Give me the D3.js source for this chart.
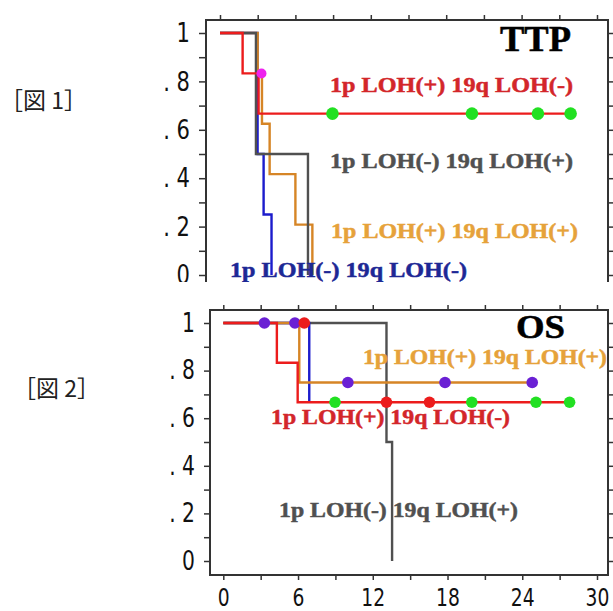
<!DOCTYPE html>
<html>
<head>
<meta charset="utf-8">
<script src="https://d3js.org/d3.v7.min.js"></script>
<style>
  body { margin: 0; background: #fff; }
  svg { display: block; }
</style>
</head>
<body>
<div id="chart"></div>
<script>
// tick labels
var timeTicks = [0, 6, 12, 18, 24, 30];
var yTickLabels = ["0", ". 2", ". 4", ". 6", ". 8", "1"];
var groupNames = ["1p LOH(+) 19q LOH(-)", "1p LOH(-) 19q LOH(+)", "1p LOH(+) 19q LOH(+)", "1p LOH(-) 19q LOH(-)"];

// TTP curves (months, survival)
var ttpRedTime = [0, 1.8, 3.07, 28];
var ttpRedSurv = [1, 0.833, 0.667, 0.667];
var ttpGrayTime = [0, 2.86, 7.0];
var ttpGraySurv = [1, 0.5, 0];
var ttpOrangeTime = [0, 3.0, 3.34, 3.95, 6.0, 7.35];
var ttpOrangeSurv = [1, 0.833, 0.625, 0.417, 0.208, 0];
var ttpBlueTime = [0, 2.99, 3.47, 4.1];
var ttpBlueSurv = [1, 0.5, 0.25, 0];
// TTP censor marks
var ttpGreenTime = [8.95, 20.05, 25.3, 27.9];
var ttpGreenSurv = [0.667, 0.667, 0.667, 0.667];
var ttpMagentaTime = [3.3];
var ttpMagentaSurv = [0.833];

// OS curves
var osRedTime = [0, 4.3, 5.97, 27.8];
var osRedSurv = [1, 0.833, 0.667, 0.667];
var osOrangeTime = [0, 6.1, 24.8];
var osOrangeSurv = [1, 0.75, 0.75];
var osBlueTime = [0, 6.9];
var osBlueSurv = [1, 0.667];
var osGrayTime = [0, 13.1, 13.55];
var osGraySurv = [1, 0.5, 0];
// OS censor marks
var osPurpleTime = [3.3, 5.75, 10.0, 17.8, 24.8];
var osPurpleSurv = [1, 1, 0.75, 0.75, 0.75];
var osRedDotTime = [6.5, 13.1, 16.55];
var osRedDotSurv = [1, 0.667, 0.667];
var osGreenTime = [8.97, 19.95, 25.1, 27.8];
var osGreenSurv = [0.667, 0.667, 0.667, 0.667];

var RED = "#ec1c1c", RED_TEXT = "#d3262a", GRAY = "#505050", ORANGE = "#d68526",
    ORANGE_TEXT = "#e6a23a", BLUE = "#1c1ccc", BLUE_TEXT = "#1d2895",
    GREEN = "#22e022", PURPLE = "#6a20d4", MAGENTA = "#ee22ee";

var TICK_FONT = "'Liberation Sans Narrow', 'Arial Narrow', 'DejaVu Sans', sans-serif";
var LABEL_FONT = "'Liberation Serif', 'Times New Roman', serif";
var NARROW = 0.78; // squeeze tick digits to look condensed

window.onload = init;

function init() {
    var svg = d3.select("#chart")
        .append("svg")
        .attr("width", 613)
        .attr("height", 611);

    drawChart1(svg);
    drawChart2(svg);
}

function zip(times, surv) {
    return times.map(function(t, i) { return { t: t, s: surv[i] }; });
}

function yFormat(d, i) {
    return i % 2 === 0 ? yTickLabels[i / 2] : "";
}

function drawCurves(g, x, y, curves) {
    var line = d3.line()
        .x(function(d) { return x(d.t); })
        .y(function(d) { return y(d.s); })
        .curve(d3.curveStepAfter);

    curves.forEach(function(c) {
        g.append("path")
            .datum(zip(c.t, c.s))
            .attr("d", line)
            .attr("fill", "none")
            .attr("stroke", c.color)
            .attr("stroke-width", 2.4);
    });
}

function drawDots(g, x, y, dots) {
    dots.forEach(function(c) {
        g.selectAll(null)
            .data(zip(c.t, c.s))
            .enter()
            .append("circle")
            .attr("cx", function(d) { return x(d.t); })
            .attr("cy", function(d) { return y(d.s); })
            .attr("r", c.r)
            .attr("fill", c.color);
    });
}

function drawLabels(g, labels) {
    labels.forEach(function(l) {
        g.append("text")
            .text(l.text)
            .attr("x", l.x)
            .attr("y", l.y)
            .attr("textLength", l.w)
            .attr("lengthAdjust", "spacingAndGlyphs")
            .attr("font-family", LABEL_FONT)
            .attr("font-weight", "bold")
            .attr("font-size", l.size)
            .attr("fill", l.color)
            .attr("stroke", l.color)
            .attr("stroke-width", 0.5);
    });
}

function styleAxis(a, size) {
    a.select(".domain").remove();
    a.selectAll("line").attr("stroke", "#333").attr("stroke-width", 1.5);
    a.selectAll("text")
        .attr("font-family", TICK_FONT)
        .attr("font-size", size)
        .attr("fill", "#111");
}

// condensed look for left axis labels (keep right edge in place)
function narrowLeft(a, offset) {
    a.selectAll("text")
        .attr("transform", "scale(" + NARROW + ",1)")
        .attr("x", -offset / NARROW);
}

function drawChart1(svg) {
    var left = 206, top = 20, right = 608, cut = 282;
    var x = d3.scaleLinear().domain([0, 30]).range([220, 597]);
    var y = d3.scaleLinear().domain([0, 1]).range([275, 33]);

    svg.append("clipPath").attr("id", "cut1")
        .append("rect").attr("x", 0).attr("y", 0).attr("width", 613).attr("height", cut);

    var g = svg.append("g").attr("clip-path", "url(#cut1)");

    // axes
    var yTicks = d3.range(0, 11).map(function(i) { return i / 10; });
    g.append("g").attr("transform", "translate(" + left + ",0)")
        .call(d3.axisLeft(y).tickValues(yTicks).tickFormat(yFormat).tickSize(7).tickPadding(8))
        .call(styleAxis, 27)
        .call(narrowLeft, 16);
    g.append("g").attr("transform", "translate(" + right + ",0)")
        .call(d3.axisRight(y).tickValues(yTicks).tickFormat("").tickSize(5))
        .call(styleAxis, 26);
    g.append("g").attr("transform", "translate(0," + top + ")")
        .call(d3.axisTop(x).tickValues(d3.range(0, 31, 3)).tickFormat("").tickSize(5))
        .call(styleAxis, 24);

    // frame (bottom is cut off)
    g.append("path")
        .attr("d", "M" + left + "," + (cut + 5) + "V" + top + "H" + right + "V" + (cut + 5))
        .attr("fill", "none")
        .attr("stroke", "#333")
        .attr("stroke-width", 2);

    drawCurves(g, x, y, [
        { t: ttpBlueTime, s: ttpBlueSurv, color: BLUE },
        { t: ttpOrangeTime, s: ttpOrangeSurv, color: ORANGE },
        { t: ttpGrayTime, s: ttpGraySurv, color: GRAY },
        { t: ttpRedTime, s: ttpRedSurv, color: RED }
    ]);

    drawDots(g, x, y, [
        { t: ttpGreenTime, s: ttpGreenSurv, color: GREEN, r: 6.3 },
        { t: ttpMagentaTime, s: ttpMagentaSurv, color: MAGENTA, r: 5 }
    ]);

    drawLabels(g, [
        { text: "TTP", x: 500, y: 51, w: 71, size: 35, color: "#000" },
        { text: groupNames[0], x: 330, y: 92, w: 243, size: 22, color: RED_TEXT },
        { text: groupNames[1], x: 330, y: 168, w: 243, size: 22, color: GRAY },
        { text: groupNames[2], x: 331, y: 238, w: 247, size: 22, color: ORANGE_TEXT },
        { text: groupNames[3], x: 230, y: 277, w: 237, size: 22, color: BLUE_TEXT }
    ]);

    svg.append("text")
        .text("［図 1］")
        .attr("x", 0)
        .attr("y", 109)
        .attr("font-family", "'Noto Sans CJK JP', sans-serif")
        .attr("font-size", 23)
        .attr("fill", "#222");
}

function drawChart2(svg) {
    var left = 210, top = 310, right = 608, bottom = 575;
    var x = d3.scaleLinear().domain([0, 30]).range([223.3, 597]);
    var y = d3.scaleLinear().domain([0, 1]).range([561, 323]);

    var g = svg.append("g");

    var yTicks = d3.range(0, 11).map(function(i) { return i / 10; });
    g.append("g").attr("transform", "translate(" + left + ",0)")
        .call(d3.axisLeft(y).tickValues(yTicks).tickFormat(yFormat).tickSize(6).tickPadding(9))
        .call(styleAxis, 26)
        .call(narrowLeft, 15);
    g.append("g").attr("transform", "translate(" + right + ",0)")
        .call(d3.axisRight(y).tickValues(yTicks).tickFormat("").tickSize(5))
        .call(styleAxis, 25);
    g.append("g").attr("transform", "translate(0," + top + ")")
        .call(d3.axisTop(x).tickValues(d3.range(0, 31, 3)).tickFormat("").tickSize(5))
        .call(styleAxis, 24);
    g.append("g").attr("transform", "translate(0," + bottom + ")")
        .call(d3.axisBottom(x).tickValues(d3.range(0, 31, 3))
            .tickFormat(function(d) { return timeTicks.indexOf(d) >= 0 ? d : ""; })
            .tickSize(5).tickPadding(9))
        .call(styleAxis, 24)
        .call(function(a) { a.selectAll("text").attr("transform", "scale(" + NARROW + ",1)"); });

    g.append("rect")
        .attr("x", left)
        .attr("y", top)
        .attr("width", right - left)
        .attr("height", bottom - top)
        .attr("fill", "none")
        .attr("stroke", "#333")
        .attr("stroke-width", 2);

    drawCurves(g, x, y, [
        { t: osGrayTime, s: osGraySurv, color: GRAY },
        { t: osBlueTime, s: osBlueSurv, color: BLUE },
        { t: osOrangeTime, s: osOrangeSurv, color: ORANGE },
        { t: osRedTime, s: osRedSurv, color: RED }
    ]);

    drawDots(g, x, y, [
        { t: osPurpleTime, s: osPurpleSurv, color: PURPLE, r: 5.8 },
        { t: osRedDotTime, s: osRedDotSurv, color: RED, r: 5.8 },
        { t: osGreenTime, s: osGreenSurv, color: GREEN, r: 5.8 }
    ]);

    drawLabels(g, [
        { text: "OS", x: 516, y: 338, w: 49, size: 33, color: "#000" },
        { text: groupNames[2], x: 363, y: 364, w: 244, size: 22, color: ORANGE_TEXT },
        { text: groupNames[0], x: 271, y: 424, w: 239, size: 22, color: RED_TEXT },
        { text: groupNames[1], x: 279, y: 517, w: 239, size: 22, color: GRAY }
    ]);

    svg.append("text")
        .text("［図 2］")
        .attr("x", 13)
        .attr("y", 397)
        .attr("font-family", "'Noto Sans CJK JP', sans-serif")
        .attr("font-size", 23)
        .attr("fill", "#222");
}
</script>
</body>
</html>
